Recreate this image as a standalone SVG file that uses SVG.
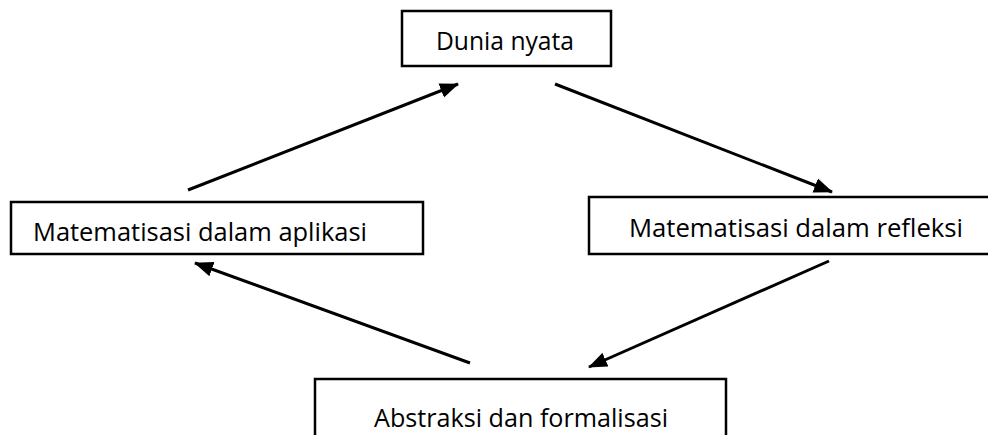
<svg xmlns="http://www.w3.org/2000/svg" width="988" height="435" viewBox="0 0 988 435">
<style>
.box{fill:#fff;stroke:#000;stroke-width:2.5}
.lbl{font-family:"Open Sans","Liberation Sans",Arial,sans-serif;font-size:25px;fill:#000}
.conn{stroke:#000;stroke-width:3;fill:none;marker-end:url(#ah)}
</style>
<defs>
<marker id="ah" markerUnits="userSpaceOnUse" markerWidth="20" markerHeight="16" refX="18" refY="8" orient="auto">
<path d="M0,0.5 L19,8 L0,15.5 Z" fill="#000"/>
</marker>
</defs>
<rect width="988" height="435" fill="#fff"/>
<g id="n-dunia">
<rect class="box" x="402" y="11" width="209" height="55"/>
<text class="lbl" x="436" y="50" textLength="138" lengthAdjust="spacingAndGlyphs">Dunia nyata</text>
</g>
<g id="n-aplikasi">
<rect class="box" x="11" y="202" width="412" height="52"/>
<text class="lbl" x="33" y="241" textLength="334" lengthAdjust="spacingAndGlyphs">Matematisasi dalam aplikasi</text>
</g>
<g id="n-refleksi">
<rect class="box" x="589" y="197" width="420" height="57"/>
<text class="lbl" x="629" y="237" textLength="334" lengthAdjust="spacingAndGlyphs">Matematisasi dalam refleksi</text>
</g>
<g id="n-abstraksi">
<rect class="box" x="315" y="379" width="411" height="70"/>
<text class="lbl" x="374" y="427" textLength="294" lengthAdjust="spacingAndGlyphs">Abstraksi dan formalisasi</text>
</g>
<g id="connectors">
<line class="conn" x1="188" y1="190" x2="458" y2="84"/>
<line class="conn" x1="555" y1="84" x2="832" y2="192"/>
<line class="conn" x1="829" y1="261" x2="589" y2="367"/>
<line class="conn" x1="470" y1="363" x2="195" y2="263"/>
</g>
</svg>
